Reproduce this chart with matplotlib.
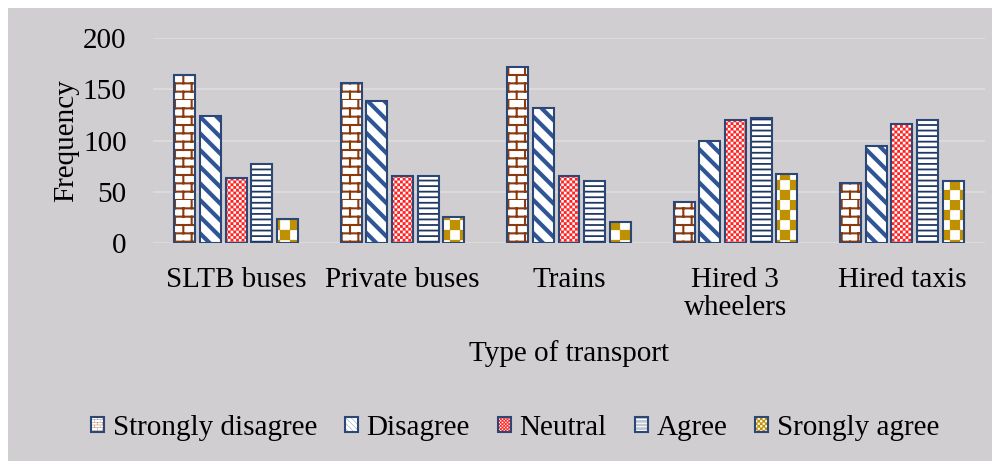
import warnings
import numpy as np
import matplotlib
matplotlib.use('Agg')
import matplotlib.pyplot as plt
from matplotlib import hatch as mhatch
from matplotlib.path import Path
from matplotlib.patches import Patch, Rectangle
from matplotlib.legend_handler import HandlerTuple

warnings.filterwarnings('ignore')

categories = ['SLTB buses', 'Private buses', 'Trains', 'Hired 3\nwheelers', 'Hired taxis']
series = ['Strongly disagree', 'Disagree', 'Neutral', 'Agree', 'Srongly agree']
strongly_disagree = [164, 156, 172, 40, 59]
disagree = [124, 139, 132, 100, 95]
neutral = [63, 65, 65, 120, 116]
agree = [77, 65, 60, 122, 120]
strongly_agree = [23, 25, 20, 67, 60]
yticks = [0, 50, 100, 150, 200]


# brick pattern: 'B' -> rows of bricks
class BrickHatch(mhatch.HatchPatternBase):
    def __init__(self, hatch, density):
        self.rows = int(hatch.count('B') * density)
        self.cols = self.rows // 2
        self.num_vertices = self.rows * (1 + self.cols) * 2

    def set_vertices_and_codes(self, vertices, codes):
        h = 1.0 / self.rows
        w = 1.0 / self.cols
        k = 0
        for r in range(self.rows):
            y0 = r * h
            vertices[k] = (0, y0); vertices[k + 1] = (1, y0)
            k += 2
            off = 0.5 * w if r % 2 else 0.0
            for c in range(self.cols):
                xx = off + c * w
                vertices[k] = (xx, y0); vertices[k + 1] = (xx, y0 + h)
                k += 2
        codes[0::2] = Path.MOVETO
        codes[1::2] = Path.LINETO


# checkerboards: 'C' -> fine squares (6 per char), 'K' -> big squares (5 per char)
def make_checker(ch, per):
    class CheckerHatch(mhatch.HatchPatternBase):
        def __init__(self, hatch, density):
            self.n = int(hatch.count(ch) * per)
            self.num_vertices = ((self.n * self.n + 1) // 2) * 5

        def set_vertices_and_codes(self, vertices, codes):
            s = 1.0 / max(self.n, 1)
            k = 0
            for i in range(self.n):
                for j in range(self.n):
                    if (i + j) % 2:
                        continue
                    xx, yy = j * s, i * s
                    vertices[k:k + 5] = [(xx, yy), (xx + s, yy), (xx + s, yy + s), (xx, yy + s), (xx, yy)]
                    codes[k] = Path.MOVETO
                    codes[k + 1:k + 4] = Path.LINETO
                    codes[k + 4] = Path.CLOSEPOLY
                    k += 5
    return CheckerHatch


mhatch._hatch_types.append(BrickHatch)
mhatch._hatch_types.append(make_checker('C', 6))
mhatch._hatch_types.append(make_checker('K', 5))

plt.rcParams['font.family'] = ['Liberation Serif', 'DejaVu Serif']

bg = '#D0CED0'
edge = '#2B4778'
fs = 21
# (bar hatch, legend hatch, colour, hatch width)
styles = [
    ('BB', 'BBBBBB', '#8B3A0E', 1.5),
    ('\\\\', '\\\\\\\\\\\\', '#2F5597', 3.0),
    ('CCCCCC', 'CCCCCCCCCC', '#FF2020', 0.1),
    ('---', '------------', '#1F3864', 1.3),
    ('KK', 'KKKKKKKK', '#BF9000', 0.2),
]
data = [strongly_disagree, disagree, neutral, agree, strongly_agree]

fig = plt.figure(figsize=(10, 4.61), dpi=100, facecolor='white')
fig.patches.append(Rectangle((0.008, 0.0), 0.984, 0.983, transform=fig.transFigure,
                             facecolor=bg, edgecolor='none', zorder=-5))
ax = fig.add_axes([0.153, (461 - 243) / 461, 0.832, 205 / 461])
ax.set_facecolor('none')

x = np.arange(len(categories))
width = 0.126
step = 0.154
handles = []
for i, (vals, (h, lh, hc, hlw)) in enumerate(zip(data, styles)):
    pos = x + (i - 2) * step
    plt.rcParams['hatch.linewidth'] = hlw
    b1 = ax.bar(pos, vals, width, color='white', edgecolor=hc, hatch=h, linewidth=0, zorder=2)
    for p in b1:
        if hasattr(p, 'set_hatch_linewidth'):
            p.set_hatch_linewidth(hlw)
    ax.bar(pos, vals, width, fill=False, edgecolor=edge, linewidth=1.5, zorder=3)
    ph = Patch(facecolor='white', edgecolor=hc, hatch=lh, linewidth=0)
    if hasattr(ph, 'set_hatch_linewidth'):
        ph.set_hatch_linewidth(hlw)
    pe = Patch(fill=False, edgecolor=edge, linewidth=1.5)
    handles.append((ph, pe))

ax.set_xlim(-0.5, 4.5)
ax.set_ylim(0, 200)
ax.set_yticks(yticks)
ax.yaxis.grid(True, color='#DEDDDE', linewidth=1.3, zorder=0)
ax.set_axisbelow(True)
for s in ax.spines.values():
    s.set_visible(False)
ax.tick_params(axis='both', length=0, labelsize=fs, colors='black')
ax.tick_params(axis='y', pad=19)
ax.tick_params(axis='x', pad=17)
ax.set_xticks(x)
ax.set_xticklabels(categories, linespacing=1.1)
ax.set_xlabel('Type of transport', fontsize=fs, labelpad=14)
ax.set_ylabel('Frequency', fontsize=fs, labelpad=3)

fig.legend(handles, series, handler_map={tuple: HandlerTuple(ndivide=1, pad=0)},
           loc='center', bbox_to_anchor=(0.515, 0.072), ncol=5, frameon=False,
           fontsize=fs, handlelength=0.45, handleheight=0.45, handletextpad=0.3,
           columnspacing=0.95)

plt.savefig('out.png', dpi=100, facecolor=fig.get_facecolor())
